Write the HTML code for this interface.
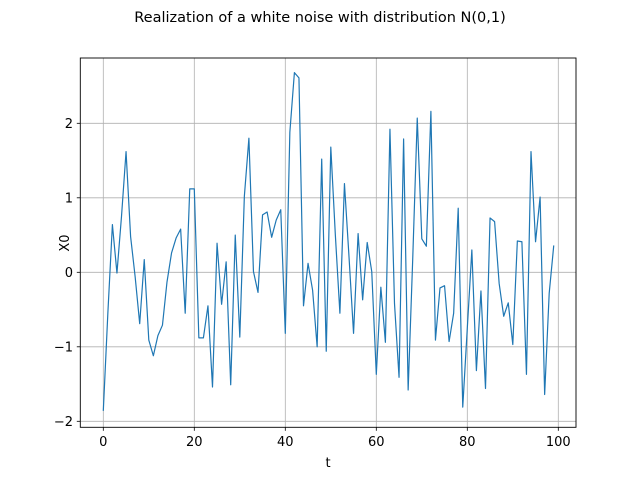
<!DOCTYPE html>
<html><head><meta charset="utf-8"><style>
body{margin:0;background:#fff;}
svg text{font-family:"DejaVu Sans","Liberation Sans",sans-serif;fill:#000;}
</style></head><body>
<svg id="chart" width="640" height="480" xmlns="http://www.w3.org/2000/svg">
<text x="320" y="22" font-size="14.5" text-anchor="middle">Realization of a white noise with distribution N(0,1)</text>
<g id="grid"></g>
<g id="series"></g>
<rect x="80.3" y="58" width="495.7" height="369.3" fill="none" stroke="#000" stroke-width="0.9"/>
<g id="ticks"></g>
<text x="328" y="467" font-size="13" text-anchor="middle">t</text>
<text x="0" y="0" font-size="13" text-anchor="middle" transform="translate(69,243) rotate(-90)">X0</text>
</svg>
<script>
const values = [-1.86,-0.55,0.64,-0.01,0.75,1.62,0.48,-0.06,-0.69,0.17,-0.91,-1.12,-0.85,-0.71,-0.13,0.26,0.46,0.58,-0.55,1.12,
1.12,-0.88,-0.88,-0.45,-1.54,0.39,-0.43,0.14,-1.51,0.5,-0.87,1.02,1.8,0.01,-0.27,0.77,0.81,0.47,0.7,0.84,
-0.82,1.88,2.68,2.61,-0.45,0.12,-0.24,-1.0,1.52,-1.06,1.68,0.5,-0.55,1.19,0.21,-0.82,0.52,-0.37,0.4,0.01,
-1.37,-0.2,-0.94,1.92,-0.42,-1.41,1.79,-1.58,0.17,2.07,0.45,0.35,2.16,-0.91,-0.21,-0.18,-0.93,-0.55,0.86,-1.81,
-0.75,0.3,-1.32,-0.25,-1.56,0.73,0.68,-0.15,-0.59,-0.41,-0.97,0.42,0.41,-1.37,1.62,0.41,1.01,-1.64,-0.28,0.36];
const xTicks = [0,20,40,60,80,100];
const yTicks = [-2,-1,0,1,2];
const NS="http://www.w3.org/2000/svg";
function X(t){return 103.3+4.55*t;}
function Y(v){return 272.3-74.5*v;}
const grid=document.getElementById('grid'), ticks=document.getElementById('ticks'), series=document.getElementById('series');
function mk(tag,attrs,parent){const e=document.createElementNS(NS,tag);for(const k in attrs)e.setAttribute(k,attrs[k]);parent.appendChild(e);return e;}
xTicks.forEach(t=>{
  const g=mk('line',{x1:X(t),x2:X(t),y1:58,y2:427.3,stroke:'#b0b0b0','stroke-width':0.8},grid);
  
  
  mk('line',{x1:X(t),x2:X(t),y1:427.3,y2:430.8,stroke:'#000','stroke-width':0.8},ticks);
  const l=mk('text',{x:X(t),y:446,'font-size':13,'text-anchor':'middle'},ticks);
  l.textContent=t;
  
  
});
yTicks.forEach(v=>{
  const g=mk('line',{x1:80.3,x2:576,y1:Y(v),y2:Y(v),stroke:'#b0b0b0','stroke-width':0.8},grid);
  
  
  mk('line',{x1:76.8,x2:80.3,y1:Y(v),y2:Y(v),stroke:'#000','stroke-width':0.8},ticks);
  const l=mk('text',{x:73,y:Y(v)+4.7,'font-size':13,'text-anchor':'end'},ticks);
  l.textContent=(v<0?'\u2212':'')+Math.abs(v);
  
  
});
const pl=mk('polyline',{points:values.map((v,i)=>X(i)+','+Y(v)).join(' '),fill:'none',stroke:'#1f77b4','stroke-width':1.2,'stroke-linejoin':'round'},series);


</script>
</body></html>
